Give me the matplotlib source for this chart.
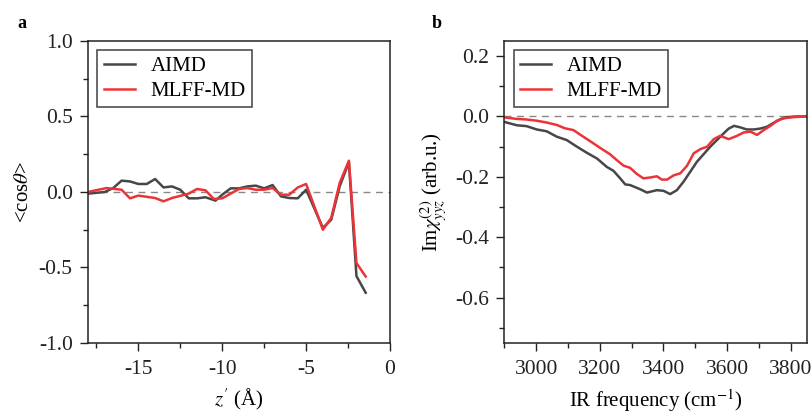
import matplotlib
matplotlib.use('Agg')
import matplotlib.pyplot as plt
from matplotlib.ticker import MultipleLocator, FuncFormatter

# ─── Data ────────────────────────────────────────────────────────────────────

# panel a: <cos theta> vs z'
z_aimd = [-18.0, -17.0, -16.5, -16.0, -15.5, -15.0, -14.5, -14.0, -13.5, -13.0, -12.5,
          -12.0, -11.5, -11.0, -10.4, -10.0, -9.5, -9.0, -8.5, -8.0, -7.5, -7.0,
          -6.5, -6.0, -5.5, -5.0, -4.0, -3.5, -3.0, -2.45, -2.0, -1.45]
cos_aimd = [-0.011, 0.0, 0.026, 0.075, 0.07, 0.053, 0.053, 0.086, 0.03, 0.037, 0.015,
            -0.042, -0.042, -0.035, -0.057, -0.018, 0.024, 0.024, 0.037, 0.042, 0.024, 0.046,
            -0.029, -0.04, -0.042, 0.015, -0.238, -0.183, 0.037, 0.198, -0.557, -0.667]

z_mlff = [-18.0, -16.9, -16.0, -15.5, -15.0, -14.0, -13.5, -13.0, -12.0, -11.5, -11.0,
          -10.5, -10.0, -9.0, -8.5, -8.0, -7.5, -7.0, -6.5, -6.0, -5.5, -5.0,
          -4.0, -3.5, -3.0, -2.45, -2.0, -1.45]
cos_mlff = [0.0, 0.026, 0.015, -0.042, -0.024, -0.04, -0.062, -0.04, -0.011, 0.02, 0.011,
            -0.046, -0.042, 0.02, 0.026, 0.015, 0.015, 0.026, -0.018, -0.018, 0.03, 0.053,
            -0.25, -0.17, 0.06, 0.207, -0.47, -0.56]

# panel b: Im chi(2)_yyz vs IR frequency
freq_aimd = [2900, 2939, 2970, 3002, 3033, 3065, 3096, 3128, 3159, 3191, 3222, 3243,
             3264, 3280, 3295, 3327, 3348, 3379, 3400, 3421, 3442, 3463, 3484, 3505,
             3526, 3547, 3568, 3589, 3605, 3622, 3641, 3662, 3683, 3704, 3725, 3746,
             3767, 3788, 3820, 3850]
chi_aimd = [-0.018, -0.029, -0.032, -0.043, -0.049, -0.067, -0.078, -0.10, -0.12, -0.139,
            -0.167, -0.18, -0.205, -0.225, -0.227, -0.241, -0.252, -0.244, -0.246, -0.257,
            -0.244, -0.216, -0.183, -0.15, -0.125, -0.10, -0.078, -0.056, -0.04, -0.031,
            -0.036, -0.043, -0.043, -0.04, -0.034, -0.021, -0.009, -0.002, 0.0, 0.0]

freq_mlff = [2900, 2939, 2970, 3002, 3033, 3065, 3090, 3117, 3138, 3170, 3201, 3232,
             3254, 3275, 3295, 3316, 3337, 3358, 3379, 3395, 3411, 3432, 3453, 3474,
             3495, 3516, 3537, 3558, 3578, 3605, 3631, 3652, 3673, 3694, 3715, 3736,
             3757, 3778, 3809, 3850]
chi_mlff = [-0.003, -0.008, -0.01, -0.014, -0.02, -0.028, -0.039, -0.045, -0.06, -0.082,
            -0.104, -0.125, -0.145, -0.163, -0.17, -0.19, -0.205, -0.202, -0.198, -0.209,
            -0.209, -0.195, -0.188, -0.163, -0.122, -0.108, -0.10, -0.075, -0.064, -0.075,
            -0.064, -0.053, -0.05, -0.061, -0.045, -0.031, -0.014, -0.006, -0.002, 0.0]

C_AIMD = '#474747'
C_MLFF = '#ee3338'

plt.rcParams.update({
    'font.family': 'serif',
    'font.serif': ['Liberation Serif', 'DejaVu Serif'],
    'mathtext.fontset': 'stix',
    'font.size': 15,
    'axes.linewidth': 1.1,
    'xtick.direction': 'out',
    'ytick.direction': 'out',
    'xtick.major.size': 6,
    'ytick.major.size': 6,
    'xtick.minor.size': 3.5,
    'ytick.minor.size': 3.5,
    'xtick.major.width': 1.0,
    'ytick.major.width': 1.0,
    'xtick.minor.width': 1.0,
    'ytick.minor.width': 1.0,
})

fig = plt.figure(figsize=(8.12, 4.17), dpi=100)
ax_a = fig.add_axes([0.1084, 0.1775, 0.3719, 0.7242])
ax_b = fig.add_axes([0.6211, 0.1775, 0.3724, 0.7242])


def _fmt1(v, _):
    return f'{v:.1f}' if abs(v) > 1e-9 else '0.0'


def _style(ax):
    for s in ax.spines.values():
        s.set_color('#222222')
    ax.tick_params(which='both', top=False, right=False, colors='#222222')
    ax.tick_params(axis='y', labelsize=15.5, pad=5)
    ax.tick_params(axis='x', labelsize=15.5, pad=6)
    leg = ax.legend(loc='upper left', frameon=True, fancybox=False, fontsize=15,
                    handlelength=1.5, handletextpad=0.75, borderpad=0.3,
                    labelspacing=0.25, borderaxespad=0.45)
    leg.get_frame().set_edgecolor('#222222')
    leg.get_frame().set_linewidth(1.2)


# ─── Panel a ────────────────────────────────────────────────────────────────
ax_a.axhline(0, color='#888888', lw=1.0, ls=(0, (5, 4)), zorder=1)
ax_a.plot(z_aimd, cos_aimd, color=C_AIMD, lw=1.8, label='AIMD')
ax_a.plot(z_mlff, cos_mlff, color=C_MLFF, lw=1.8, label='MLFF-MD')
ax_a.set_xlim(-18, 0)
ax_a.set_ylim(-1.0, 1.0)
ax_a.xaxis.set_major_locator(MultipleLocator(5))
ax_a.xaxis.set_minor_locator(MultipleLocator(2.5))
ax_a.yaxis.set_major_locator(MultipleLocator(0.5))
ax_a.yaxis.set_minor_locator(MultipleLocator(0.25))
ax_a.xaxis.set_major_formatter(FuncFormatter(lambda v, _: f'{v:.0f}'))
ax_a.yaxis.set_major_formatter(FuncFormatter(_fmt1))
ax_a.set_xlabel(r"$z'$ (Å)", fontsize=15, labelpad=6)
ax_a.set_ylabel(r'<cos$\theta$>', fontsize=15, labelpad=4)
_style(ax_a)
fig.text(0.022, 0.933, 'a', fontsize=13, fontweight='bold')

# ─── Panel b ────────────────────────────────────────────────────────────────
ax_b.axhline(0, color='#888888', lw=1.0, ls=(0, (5, 4)), zorder=1)
ax_b.plot(freq_aimd, chi_aimd, color=C_AIMD, lw=1.8, label='AIMD')
ax_b.plot(freq_mlff, chi_mlff, color=C_MLFF, lw=1.8, label='MLFF-MD')
ax_b.set_xlim(2900, 3850)
ax_b.set_ylim(-0.75, 0.25)
ax_b.xaxis.set_major_locator(MultipleLocator(200))
ax_b.xaxis.set_minor_locator(MultipleLocator(100))
ax_b.yaxis.set_major_locator(MultipleLocator(0.2))
ax_b.yaxis.set_minor_locator(MultipleLocator(0.1))
ax_b.xaxis.set_major_formatter(FuncFormatter(lambda v, _: f'{v:.0f}'))
ax_b.yaxis.set_major_formatter(FuncFormatter(_fmt1))
ax_b.set_xlabel(r'IR frequency (cm$^{-1}$)', fontsize=15, labelpad=6)
ax_b.set_ylabel(r'Im$\chi^{(2)}_{yyz}$ (arb.u.)', fontsize=15, labelpad=4)
_style(ax_b)
fig.text(0.532, 0.933, 'b', fontsize=13, fontweight='bold')

fig.savefig('out.png', dpi=100)
